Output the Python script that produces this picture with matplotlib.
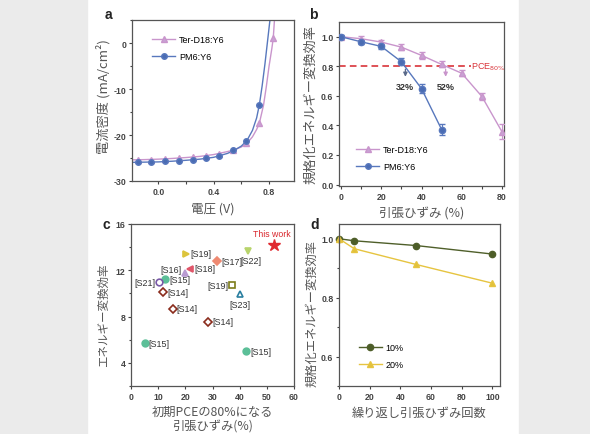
import matplotlib
matplotlib.use("Agg")
import matplotlib.pyplot as plt
from matplotlib.lines import Line2D
from matplotlib.patches import Rectangle
from matplotlib.ticker import AutoMinorLocator

plt.rcParams["font.family"] = ["Liberation Sans", "Noto Sans CJK JP"]
plt.rcParams["axes.unicode_minus"] = False

JP = ["Noto Sans CJK JP", "Liberation Sans"]

# panel a: J-V curves
ter_curve_v = [-0.19, -0.1, 0.0, 0.1, 0.2, 0.3, 0.4, 0.5, 0.55, 0.6, 0.64, 0.68, 0.71, 0.73, 0.76, 0.78, 0.80, 0.82, 0.83, 0.84]
ter_curve_j = [-25.4, -25.35, -25.25, -25.1, -24.9, -24.65, -24.25, -23.6, -23.2, -22.6, -21.8, -20.4, -18.8, -17.4, -13.5, -9.5, -5.0, -1.2, 1.0, 5.5]
ter_mark_v = [-0.145, -0.05, 0.05, 0.15, 0.25, 0.345, 0.44, 0.54, 0.635, 0.73, 0.83]
ter_mark_j = [-25.4, -25.35, -25.2, -25.05, -24.85, -24.55, -24.1, -23.3, -21.7, -17.4, 1.0]

pm6_curve_v = [-0.19, -0.1, 0.0, 0.1, 0.2, 0.3, 0.4, 0.5, 0.55, 0.6, 0.64, 0.68, 0.71, 0.73, 0.75, 0.77, 0.795, 0.807]
pm6_curve_j = [-25.95, -25.9, -25.85, -25.7, -25.5, -25.25, -24.85, -24.0, -23.3, -22.4, -21.2, -19.0, -16.3, -13.4, -9.3, -4.6, 2.0, 5.2]
pm6_mark_v = [-0.145, -0.05, 0.05, 0.15, 0.25, 0.345, 0.44, 0.54, 0.635, 0.73]
pm6_mark_j = [-25.9, -25.85, -25.75, -25.6, -25.4, -25.1, -24.5, -23.3, -21.2, -13.4]

# panel b: normalized PCE vs strain
b_ter_x = [0, 10, 20, 30, 40, 50, 60, 70, 80]
b_ter_y = [1.0, 0.987, 0.964, 0.93, 0.874, 0.813, 0.753, 0.596, 0.357]
b_ter_err = [0.01, 0.015, 0.015, 0.02, 0.025, 0.02, 0.02, 0.025, 0.05]
b_pm6_x = [0, 10, 20, 30, 40, 50]
b_pm6_y = [1.0, 0.966, 0.935, 0.831, 0.649, 0.372]
b_pm6_err = [0.01, 0.015, 0.015, 0.025, 0.03, 0.04]
pce80_level = 0.8
crack_strain = [32, 52]

# panel c: PCE vs strain at 80% of initial PCE
c_labels = ["[S19]", "[S18]", "[S16]", "[S15]", "[S21]", "[S14]", "[S17]", "[S22]",
            "[S19]", "[S23]", "[S14]", "[S14]", "[S15]", "[S15]"]
c_x = [20.2, 21.7, 20.0, 12.5, 10.3, 11.9, 31.6, 43.2, 37.1, 40.1, 15.3, 28.5, 5.2, 42.3]
c_y = [13.45, 12.13, 11.8, 11.24, 10.95, 10.1, 12.8, 13.7, 10.7, 9.98, 8.66, 7.55, 5.7, 5.0]
this_work_x = 52.5
this_work_y = 14.2

# panel d: cyclic stretching
d_cycles = [0, 10, 50, 100]
d_10 = [1.0, 0.993, 0.977, 0.948]
d_20 = [1.0, 0.966, 0.913, 0.849]

PINK = "#c995cc"
PINK_FACE = "#c8a2d4"
BLUE = "#5878bd"
BLUE_FACE = "#4a6cb3"
LABEL_GRAY = "#555555"
TICK_FS = 6.3
LEG_FS = 6.5


def style_axes(ax):
    for s in ax.spines.values():
        s.set_color("#555555")
        s.set_linewidth(0.9)
    ax.tick_params(which="both", direction="out", colors="#444444", labelsize=TICK_FS,
                   width=0.8, pad=1.5)
    ax.tick_params(which="major", length=2.5)
    ax.tick_params(which="minor", length=1.8)
    for lab in ax.get_xticklabels() + ax.get_yticklabels():
        lab.set_fontweight("bold")


fig = plt.figure(figsize=(5.9, 4.35), dpi=100)
fig.patches.append(Rectangle((0, 0), 87 / 590, 1, transform=fig.transFigure,
                             color="#ebebeb", zorder=-5))
fig.patches.append(Rectangle((519 / 590, 0), 1, 1, transform=fig.transFigure,
                             color="#ebebeb", zorder=-5))

ax_a = fig.add_axes([132 / 590, 1 - 182 / 435, 162 / 590, 161 / 435])
ax_b = fig.add_axes([339 / 590, 1 - 187 / 435, 165 / 590, 164 / 435])
ax_c = fig.add_axes([131 / 590, 1 - 387 / 435, 163 / 590, 162 / 435])
ax_d = fig.add_axes([339 / 590, 1 - 387 / 435, 161 / 590, 162 / 435])

ter_handle = Line2D([], [], color=PINK, marker="^", ms=4, mfc=PINK_FACE, mec=PINK, lw=1.0)
pm6_handle = Line2D([], [], color=BLUE, marker="o", ms=4, mfc=BLUE_FACE, mec=BLUE, lw=1.0)

# ---- a
ax_a.plot(ter_curve_v, ter_curve_j, color=PINK, lw=1.0)
ax_a.plot(pm6_curve_v, pm6_curve_j, color=BLUE, lw=1.0)
ax_a.plot(ter_mark_v, ter_mark_j, ls="none", marker="^", ms=4, color=PINK_FACE, mec=PINK)
ax_a.plot(pm6_mark_v, pm6_mark_j, ls="none", marker="o", ms=4, color=BLUE_FACE, mec=BLUE)
ax_a.set_xlim(-0.19, 0.98)
ax_a.set_ylim(-30, 5)
ax_a.set_xticks([0.0, 0.4, 0.8])
ax_a.set_yticks([-30, -20, -10, 0])
ax_a.xaxis.set_minor_locator(AutoMinorLocator(2))
ax_a.yaxis.set_minor_locator(AutoMinorLocator(2))
ax_a.legend([ter_handle, pm6_handle], ["Ter-D18:Y6", "PM6:Y6"], loc="upper left",
            bbox_to_anchor=(0.1, 0.93), frameon=False, fontsize=LEG_FS,
            handlelength=2.6, handletextpad=0.4, labelspacing=0.9, borderaxespad=0)
ax_a.set_xlabel("電圧 (V)", family=JP, fontsize=9, color=LABEL_GRAY, labelpad=4)
ax_a.set_ylabel("電流密度 (mA/cm²)", family=JP, fontsize=9.5, color=LABEL_GRAY)
ax_a.yaxis.set_label_coords(-0.13, 0.53)
style_axes(ax_a)

# ---- b
ax_b.axhline(pce80_level, xmax=0.8, color="#d9343a", ls=(0, (4, 2.5)), lw=1.2, zorder=1)
ax_b.text(64.5, pce80_level, "PCE$_{80\\%}$", color="#d9343a", fontsize=6.5, va="center")
ax_b.errorbar(b_ter_x, b_ter_y, yerr=b_ter_err, color=PINK, marker="^", ms=4.5,
              mfc=PINK_FACE, mec=PINK, lw=1.0, capsize=2, elinewidth=0.8, zorder=3)
ax_b.errorbar(b_pm6_x, b_pm6_y, yerr=b_pm6_err, color=BLUE, marker="o", ms=4.5,
              mfc=BLUE_FACE, mec=BLUE, lw=1.0, capsize=2, elinewidth=0.8, zorder=3)
ax_b.annotate("", xy=(crack_strain[0], 0.71), xytext=(crack_strain[0], pce80_level),
              arrowprops=dict(arrowstyle="-|>", color="#5a6a8a", lw=0.9, mutation_scale=6))
ax_b.annotate("", xy=(crack_strain[1], 0.71), xytext=(crack_strain[1], pce80_level),
              arrowprops=dict(arrowstyle="-|>", color=PINK, lw=0.9, mutation_scale=6))
for s in crack_strain:
    ax_b.text(s, 0.665, f"{s}%", fontsize=6.5, ha="center", va="center",
              fontweight="bold", color="#333333")
ax_b.set_xlim(-1, 81)
ax_b.set_ylim(-0.01, 1.1)
ax_b.set_xticks([0, 20, 40, 60, 80])
ax_b.set_yticks([0.0, 0.2, 0.4, 0.6, 0.8, 1.0])
ax_b.xaxis.set_minor_locator(AutoMinorLocator(2))
ax_b.legend([ter_handle, pm6_handle], ["Ter-D18:Y6", "PM6:Y6"], loc="lower left",
            bbox_to_anchor=(0.08, 0.07), frameon=False, fontsize=LEG_FS,
            handlelength=2.6, handletextpad=0.4, labelspacing=0.9, borderaxespad=0)
ax_b.set_xlabel("引張ひずみ (%)", family=JP, fontsize=9, color=LABEL_GRAY, labelpad=4)
ax_b.set_ylabel("規格化エネルギー変換効率", family=JP, fontsize=9.5, color=LABEL_GRAY)
ax_b.yaxis.set_label_coords(-0.133, 0.5)
style_axes(ax_b)

# ---- c
c_styles = [
    dict(marker=">", color="#dcc43c", mec="#dcc43c"),
    dict(marker="<", color="#e0566a", mec="#e0566a"),
    dict(marker="^", color="#b99bd2", mec="#b99bd2"),
    dict(marker="o", color="#5cbf98", mec="#5cbf98"),
    dict(marker="o", color="white", mec="#7a5aa8"),
    dict(marker="D", color="white", mec="#8a2c1c"),
    dict(marker="D", color="#ef8a72", mec="#ef8a72"),
    dict(marker="v", color="#b8d46c", mec="#b8d46c"),
    dict(marker="s", color="white", mec="#7d7d1a"),
    dict(marker="^", color="white", mec="#2a7fa0"),
    dict(marker="D", color="white", mec="#8a2c1c"),
    dict(marker="D", color="white", mec="#8a2c1c"),
    dict(marker="o", color="#5cbf98", mec="#5cbf98"),
    dict(marker="o", color="#5cbf98", mec="#5cbf98"),
]
c_offsets = [(1.5, 0, "left"), (1.5, 0, "left"), (-1.3, 0.25, "right"), (1.5, 0, "left"),
             (-1.2, 0, "right"), (1.5, 0, "left"), (1.5, 0, "left"), (0.9, -0.85, "center"),
             (-1.2, 0, "right"), (0, -0.95, "center"), (1.5, 0, "left"), (1.5, 0, "left"),
             (1.3, 0, "left"), (1.5, 0, "left")]
for x, y, lab, st, off in zip(c_x, c_y, c_labels, c_styles, c_offsets):
    ms = 4.2 if st["marker"] in ("D", "s") else 4.8
    ax_c.plot(x, y, ls="none", ms=ms, mew=1.2, marker=st["marker"], mfc=st["color"], mec=st["mec"])
    ax_c.text(x + off[0], y + off[1], lab, fontsize=6.5, ha=off[2], va="center", color="#333333")
ax_c.plot(this_work_x, this_work_y, ls="none", marker="*", ms=9, color="#e02a30")
ax_c.text(this_work_x - 0.7, this_work_y + 1.0, "This work", fontsize=6.3, ha="center",
          va="center", color="#d9262c")
ax_c.set_xlim(0, 60)
ax_c.set_ylim(2, 16)
ax_c.set_xticks([0, 10, 20, 30, 40, 50, 60])
ax_c.set_yticks([4, 8, 12, 16])
ax_c.yaxis.set_minor_locator(AutoMinorLocator(2))
ax_c.set_xlabel("初期PCEの80%になる\n引張ひずみ(%)", family=JP, fontsize=8.8,
                color=LABEL_GRAY, labelpad=3, linespacing=1.15)
ax_c.set_ylabel("エネルギー変換効率", family=JP, fontsize=8.3, color=LABEL_GRAY)
ax_c.yaxis.set_label_coords(-0.129, 0.44)
style_axes(ax_c)

# ---- d
ax_d.plot(d_cycles, d_10, color="#4f5f2a", marker="o", ms=4.5, mfc="#4d5d28", lw=1.0,
          label="10%", clip_on=False)
ax_d.plot(d_cycles, d_20, color="#e6c440", marker="^", ms=4.5, mfc="#e2c23a", lw=1.0,
          label="20%", clip_on=False)
ax_d.set_xlim(0, 105)
ax_d.set_ylim(0.5, 1.05)
ax_d.set_xticks([0, 20, 40, 60, 80, 100])
ax_d.set_yticks([0.6, 0.8, 1.0])
ax_d.yaxis.set_minor_locator(AutoMinorLocator(2))
ax_d.legend(loc="lower left", bbox_to_anchor=(0.1, 0.08), frameon=False, fontsize=LEG_FS,
            handlelength=2.6, handletextpad=0.4, labelspacing=0.9, borderaxespad=0)
ax_d.set_xlabel("繰り返し引張ひずみ回数", family=JP, fontsize=8.8, color=LABEL_GRAY, labelpad=4)
ax_d.set_ylabel("規格化エネルギー変換効率", family=JP, fontsize=8.8, color=LABEL_GRAY)
ax_d.yaxis.set_label_coords(-0.13, 0.455)
style_axes(ax_d)

# panel letters
for txt, px, py in [("a", 108, 15), ("b", 313, 15), ("c", 106, 225), ("d", 315, 225)]:
    fig.text(px / 590, 1 - py / 435, txt, fontsize=10, fontweight="bold",
             ha="center", va="center", color="#222222")

fig.savefig("out.png", dpi=100)
